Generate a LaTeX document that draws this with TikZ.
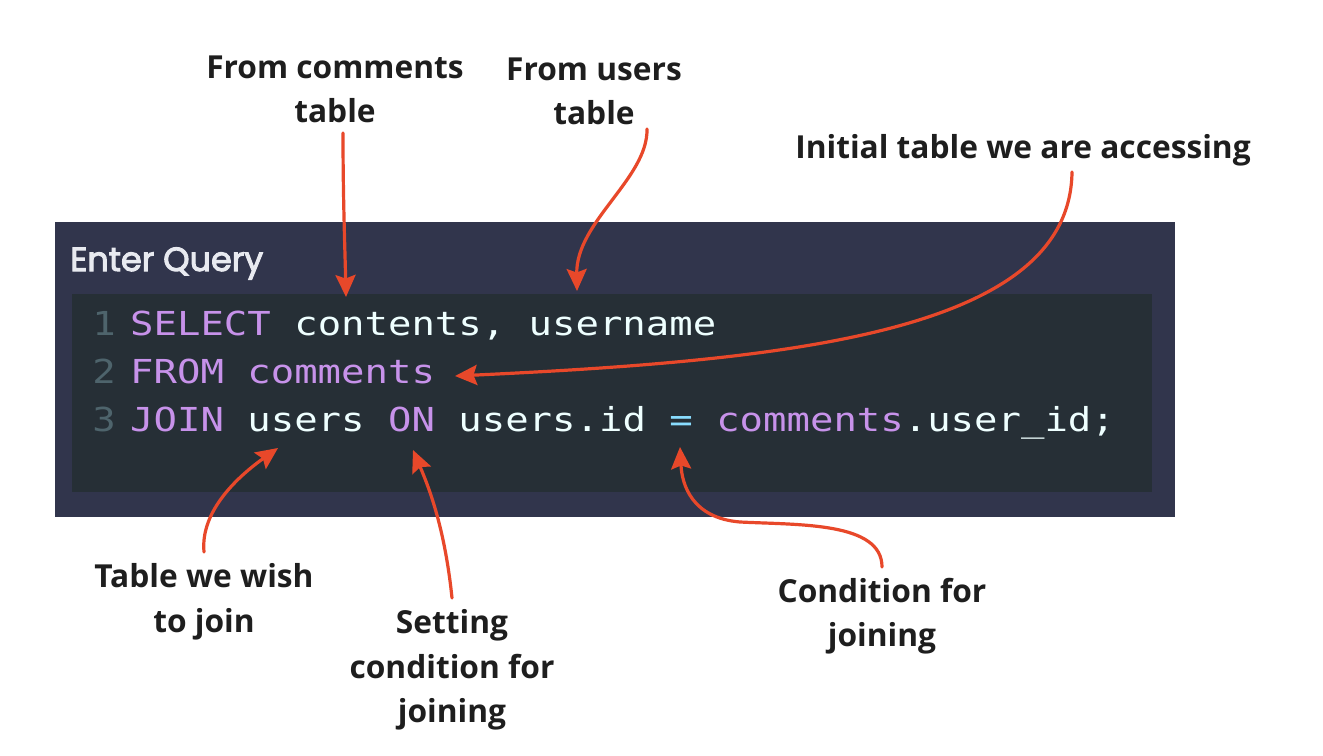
\documentclass[tikz,border=0pt]{standalone}
\usepackage{fontspec}
\setmainfont{Open Sans}
\newfontfamily\codefont[FakeStretch=1.18]{DejaVu Sans Mono}
\newfontfamily\popfont[FakeBold=3]{Poppins}
\usetikzlibrary{arrows.meta}
\definecolor{arrowc}{RGB}{232,72,42}
\definecolor{labc}{RGB}{30,30,30}
\definecolor{outerbg}{RGB}{49,53,76}
\definecolor{innerbg}{RGB}{38,47,54}
\definecolor{headc}{RGB}{232,234,240}
\definecolor{kwc}{RGB}{199,146,234}
\definecolor{idc}{RGB}{238,255,255}
\definecolor{eqc}{RGB}{137,221,255}
\definecolor{numc}{RGB}{78,100,108}
\tikzset{
  lab/.style={font=\fontsize{31.7bp}{44bp}\selectfont\bfseries, text=labc, inner sep=0pt, anchor=base},
  codeline/.style={font=\codefont\fontsize{33bp}{40bp}\selectfont, text=idc, inner sep=0pt, anchor=base west},
  lnum/.style={font=\codefont\fontsize{33bp}{40bp}\selectfont, text=numc, inner sep=0pt, anchor=base east},
  callout/.style={draw=arrowc, line width=3.2bp, line cap=round, -{Stealth[length=22bp,width=20bp,inset=3.5bp]}}
}
\begin{document}
\begin{tikzpicture}[x=1bp,y=-1bp]
\frenchspacing
\useasboundingbox (0,0) rectangle (1323,755);
\fill[white] (0,0) rectangle (1323,755);
% panel
\fill[outerbg] (55,222) rectangle (1175,517);
\fill[innerbg] (72,294) rectangle (1152,492);
\node[font=\popfont\fontsize{33.5bp}{38bp}\selectfont, text=headc, inner sep=0pt, anchor=base west] (head) at (70,271) {Enter Query};
% code
\node[lnum] (n1) at (116,335) {1};
\node[lnum] (n2) at (116,383) {2};
\node[lnum] (n3) at (116,431) {3};
\node[codeline] (c1) at (130,335) {\textcolor{kwc}{SELECT} contents, username};
\node[codeline] (c2) at (130,383) {\textcolor{kwc}{FROM comments}};
\node[codeline] (c3) at (130,431) {\textcolor{kwc}{JOIN} users \textcolor{kwc}{ON} users.id \textcolor{eqc}{=} \textcolor{kwc}{comments}.user\_id;};
% labels
\node[lab] (l1a) at (335,78) {From comments};
\node[lab] (l1b) at (335,122) {table};
\node[lab] (l2a) at (594,80) {From users};
\node[lab] (l2b) at (594,124) {table};
\node[lab] (l3) at (1023,158) {Initial table we are accessing};
\node[lab] (l4a) at (204,587) {Table we wish};
\node[lab] (l4b) at (204,632) {to join};
\node[lab] (l5a) at (452,633) {Setting};
\node[lab] (l5b) at (452,678) {condition for};
\node[lab] (l5c) at (452,722) {joining};
\node[lab] (l6a) at (882,602) {Condition for};
\node[lab] (l6b) at (882,646) {joining};
% arrow targets
\coordinate (t1) at (346,297);
\coordinate (t2) at (577,291);
\coordinate (t3) at (455,376);
\coordinate (t4) at (278,448);
\coordinate (t5) at (413,450);
\coordinate (t6) at (680,447);
\coordinate (s1) at (343,133);
\coordinate (s2) at (647,129);
\coordinate (s3) at (1072,172);
\coordinate (s4) at (204,552);
\coordinate (s5) at (452,598);
\coordinate (s6) at (882,567);
\coordinate (m6) at (740,522);
% connectors
\draw[callout] (s1) .. controls (343,200) and (345,250) .. (t1);
\draw[callout] (s2) .. controls (648,178) and (576,222) .. (t2);
\draw[callout] (s3) .. controls (1070,330) and (800,360) .. (t3);
\draw[callout] (s4) .. controls (200,510) and (240,475) .. (t4);
\draw[callout] (s5) .. controls (445,530) and (430,490) .. (t5);
\draw[callout] (s6) .. controls (882,522) and (800,525) .. (m6) .. controls (692,518) and (682,485) .. (t6);
\end{tikzpicture}
\end{document}
